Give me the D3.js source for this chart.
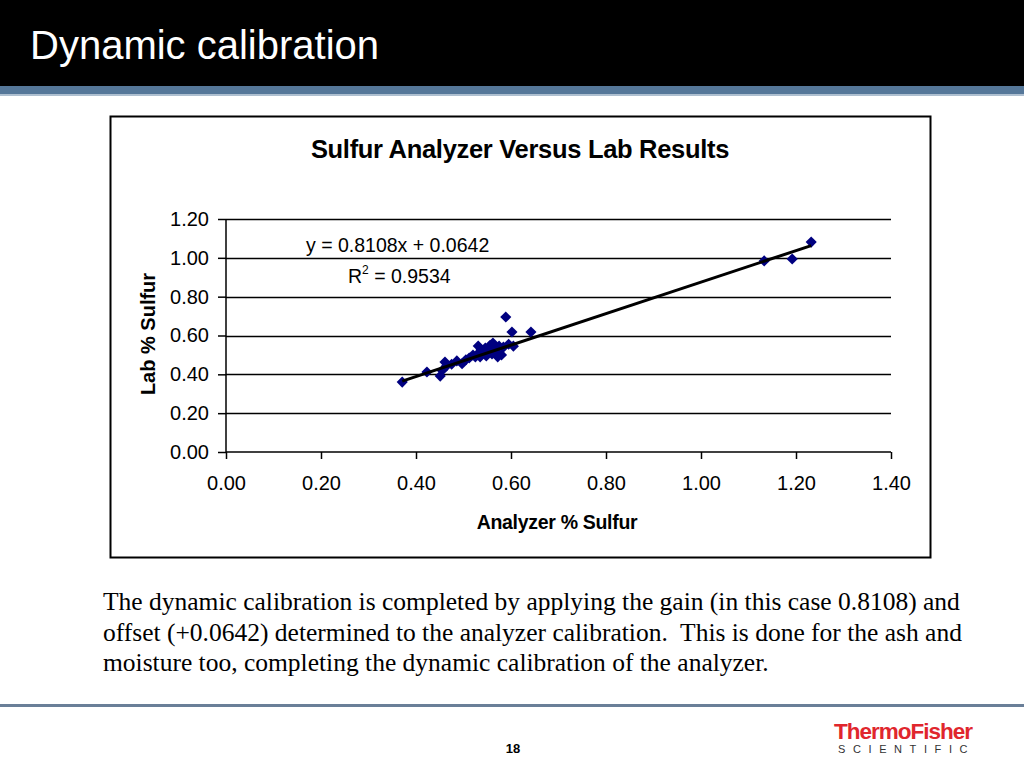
<!DOCTYPE html>
<html>
<head>
<meta charset="utf-8">
<script src="https://cdn.jsdelivr.net/npm/d3@7"></script>
<style>
  body { margin: 0; background: #fff; }
  svg { display: block; font-family: "Liberation Sans", Arial, sans-serif; }
</style>
</head>
<body>
<svg width="1024" height="768"></svg>
<script>
// analyzer % sulfur vs lab % sulfur
var analyzer = [0.371, 0.423, 0.451, 0.455, 0.461, 0.465, 0.475, 0.486, 0.497, 0.505,
    0.512, 0.520, 0.525, 0.531, 0.537, 0.541, 0.546, 0.551, 0.556, 0.562,
    0.566, 0.570, 0.575, 0.580, 0.584, 0.589, 0.595, 0.602, 0.605, 0.642,
    0.535, 0.548, 0.560, 0.572, 0.528, 1.133, 1.192, 1.232];
var lab = [0.360, 0.412, 0.391, 0.420, 0.463, 0.445, 0.452, 0.469, 0.455, 0.475,
    0.484, 0.499, 0.490, 0.546, 0.525, 0.510, 0.535, 0.520, 0.550, 0.561,
    0.530, 0.515, 0.545, 0.500, 0.540, 0.695, 0.555, 0.618, 0.545, 0.618,
    0.490, 0.495, 0.505, 0.490, 0.500, 0.984, 0.994, 1.081];
var gain = 0.8108, offset = 0.0642, r2 = 0.9534;
var xTicks = [0, 0.2, 0.4, 0.6, 0.8, 1.0, 1.2, 1.4];
var yTicks = [0, 0.2, 0.4, 0.6, 0.8, 1.0, 1.2];

var svg = d3.select("svg");

/* slide frame */
svg.append("rect").attr("x", 0).attr("y", 0).attr("width", 1024).attr("height", 86).attr("fill", "#000");
svg.append("rect").attr("x", 0).attr("y", 86).attr("width", 1024).attr("height", 8).attr("fill", "#557799");
svg.append("rect").attr("x", 0).attr("y", 94).attr("width", 1024).attr("height", 2).attr("fill", "#aebfd0");
svg.append("text").attr("x", 30).attr("y", 59).attr("fill", "#fff")
    .style("font-size", "40px").text("Dynamic calibration");

// chart box
svg.append("rect").attr("x", 110.5).attr("y", 116.5).attr("width", 820).attr("height", 441)
    .attr("fill", "#fff").attr("stroke", "#000").attr("stroke-width", 2);

svg.append("text").attr("x", 520).attr("y", 158).attr("text-anchor", "middle")
    .style("font-size", "25.5px").style("font-weight", "bold").style("letter-spacing", "-0.3px")
    .text("Sulfur Analyzer Versus Lab Results");

var margin = {left: 226, top: 219},
    width = 665, height = 233,
    g = svg.append("g").attr("transform", "translate(" + margin.left + "," + margin.top + ")");

var x = d3.scaleLinear().domain([0, 1.4]).range([0, width]),
    y = d3.scaleLinear().domain([0, 1.2]).range([height, 0]);

// gridlines
g.selectAll(".grid").data(yTicks.slice(1)).enter().append("line")
    .attr("x1", 0).attr("x2", width)
    .attr("y1", function(d) { return Math.round(y(d)) + 0.5; })
    .attr("y2", function(d) { return Math.round(y(d)) + 0.5; })
    .attr("stroke", "#000").attr("stroke-width", 1.5);

var yAxis = g.append("g")
    .call(d3.axisLeft(y).tickValues(yTicks).tickFormat(d3.format(".2f")).tickSize(8).tickPadding(9));
var xAxis = g.append("g").attr("transform", "translate(0," + height + ")")
    .call(d3.axisBottom(x).tickValues(xTicks).tickFormat(d3.format(".2f")).tickSize(7).tickPadding(17));
[xAxis, yAxis].forEach(function(a) {
    a.select(".domain").attr("stroke", "#000").attr("stroke-width", 1.5);
    a.selectAll(".tick line").attr("stroke", "#000").attr("stroke-width", 1.5);
    a.selectAll("text").style("font-size", "20px").style("font-family", "\"Liberation Sans\", Arial, sans-serif").attr("fill", "#000");
});
xAxis.select(".domain").attr("d", "M0,0H" + width);
yAxis.select(".domain").attr("d", "M0," + height + "V0");

// axis titles
svg.append("text").attr("x", 557).attr("y", 529).attr("text-anchor", "middle")
    .style("font-size", "19.5px").style("font-weight", "bold").style("letter-spacing", "-0.3px").text("Analyzer % Sulfur");
svg.append("text").attr("transform", "translate(155,334) rotate(-90)").attr("text-anchor", "middle")
    .style("font-size", "20px").style("font-weight", "bold").text("Lab % Sulfur");

// points
var pts = analyzer.map(function(a, i) { return {x: a, y: lab[i]}; });
g.selectAll(".pt").data(pts).enter().append("path")
    .attr("d", d3.symbol(d3.symbolSquare, 62))
    .attr("transform", function(d) { return "translate(" + x(d.x) + "," + y(d.y) + ") rotate(45)"; })
    .attr("fill", "#000080");

// linear trendline
var xs = d3.extent(analyzer);
g.append("path")
    .attr("d", d3.line().x(function(d) { return x(d); }).y(function(d) { return y(gain * d + offset); })(xs))
    .attr("fill", "none").attr("stroke", "#000").attr("stroke-width", 3);

// equation
g.append("text").attr("x", 80).attr("y", 33).style("font-size", "19.5px").text("y = " + gain + "x + " + offset);
var rt = g.append("text").attr("x", 122).attr("y", 64).style("font-size", "19.5px");
rt.append("tspan").text("R");
rt.append("tspan").attr("dy", -9).style("font-size", "12px").text("2");
rt.append("tspan").attr("dy", 9).text(" = " + r2);

/* body text */
var body = ["The dynamic calibration is completed by applying the gain (in this case 0.8108) and",
    "offset (+0.0642) determined to the analyzer calibration.  This is done for the ash and",
    "moisture too, completing the dynamic calibration of the analyzer."];
svg.append("g").selectAll("text").data(body).enter().append("text")
    .attr("x", 103).attr("y", function(d, i) { return 610 + i * 30.5; })
    .attr("xml:space", "preserve")
    .style("font-family", "\"Liberation Serif\", \"Times New Roman\", serif").style("font-size", "25.5px")
    .text(function(d) { return d; });

/* footer */
svg.append("rect").attr("x", 0).attr("y", 704).attr("width", 1024).attr("height", 3).attr("fill", "#6a7f98");
svg.append("text").attr("x", 513).attr("y", 753).attr("text-anchor", "middle")
    .style("font-size", "13px").style("font-weight", "bold").text("18");
svg.append("text").attr("x", 834).attr("y", 739).attr("fill", "#e0262d")
    .style("font-size", "22.5px").style("font-weight", "bold").style("letter-spacing", "-1px").text("ThermoFisher");
svg.append("text").attr("x", 838).attr("y", 753).attr("fill", "#333")
    .style("font-size", "11px").style("letter-spacing", "7.6px").text("SCIENTIFIC");
</script>
</body>
</html>
